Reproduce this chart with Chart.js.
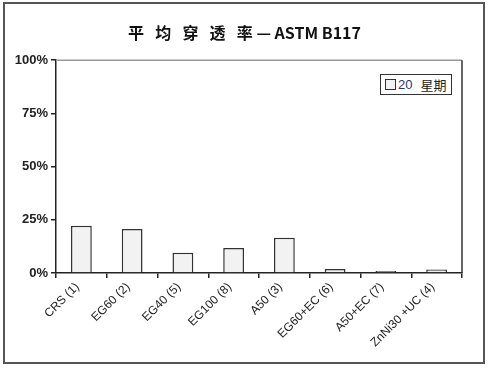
<!DOCTYPE html>
<html>
<head>
<meta charset="utf-8">
<script src="https://cdn.jsdelivr.net/npm/chart.js@4/dist/chart.umd.min.js"></script>
<style>
  html, body { margin: 0; padding: 0; background: #fff; }
  #wrap { position: relative; width: 489px; height: 368px; }
  #frame { position: absolute; left: 3px; top: 2px; width: 478px; height: 358px; border: 2px solid #555; pointer-events: none; }
  #legend {
    position: absolute; left: 380px; top: 74px; width: 72px; height: 21px;
    border: 1px solid #333; background: #fff;
    font: 13px "Noto Sans CJK SC", "Liberation Sans", sans-serif; color: #222;
    display: flex; align-items: center; box-sizing: border-box; padding-left: 4px;
  }
  #legend .sw { width: 9px; height: 9px; border: 1px solid #333; background: #f2f2f2; margin-right: 2px; }
  #legend .n { color: #1f3a6e; font-family: "Liberation Sans", sans-serif; margin-right: 8px; }
</style>
</head>
<body>
<div id="wrap">
  <canvas id="chart" width="489" height="368"></canvas>
  <div id="frame"></div>
  <div id="legend"><span class="sw"></span><span class="n">20</span><span>星期</span></div>
</div>
<script>
// 数据
const categories = ['CRS (1)', 'EG60 (2)', 'EG40 (5)', 'EG100 (8)', 'A50 (3)', 'EG60+EC (6)', 'A50+EC (7)', 'ZnNi30 +UC (4)'];
const week20 = [22.2, 20.7, 9.5, 11.7, 16.6, 1.9, 0.9, 1.7];
const yTicks = [0, 25, 50, 75, 100];
const seriesLabel = '20 星期';
const chartTitle = '平\u2002\u2009均\u2002\u2009穿\u2002\u2009透\u2002\u2009率 — ASTM B117';

// 画图区上边和右边的框线
const plotBox = {
  id: 'plotBox',
  afterDraw(chart) {
    const { ctx, chartArea: a } = chart;
    ctx.save();
    ctx.lineWidth = 1.5;
    ctx.strokeStyle = '#999';
    ctx.beginPath();
    ctx.moveTo(a.left, a.top);
    ctx.lineTo(a.right, a.top);
    ctx.stroke();
    ctx.strokeStyle = '#333';
    ctx.beginPath();
    ctx.moveTo(a.right, a.top);
    ctx.lineTo(a.right, a.bottom);
    ctx.stroke();
    ctx.restore();
  }
};

new Chart(document.getElementById('chart'), {
  type: 'bar',
  data: {
    labels: categories,
    datasets: [{
      label: seriesLabel,
      data: week20,
      backgroundColor: '#f2f2f2',
      borderColor: '#333',
      borderWidth: 1.5,
      barPercentage: 0.41,
      categoryPercentage: 1
    }]
  },
  options: {
    responsive: false,
    animation: false,
    layout: { padding: 0 },
    plugins: {
      legend: { display: false },
      tooltip: { enabled: false },
      title: {
        display: true,
        text: chartTitle,
        color: '#111',
        font: { family: '"Noto Sans CJK SC", "Liberation Sans", sans-serif', size: 16, weight: 'bold' },
        padding: { top: 23, bottom: 18 }
      }
    },
    scales: {
      x: {
        grid: { drawOnChartArea: false, offset: true, tickLength: 5, color: '#222', lineWidth: 1.5 },
        border: { color: '#222', width: 1.5 },
        ticks: {
          color: '#222',
          font: { family: '"Liberation Sans", Arial, sans-serif', size: 12 },
          minRotation: 45,
          maxRotation: 45,
          autoSkip: false,
          labelOffset: -4,
          padding: 2
        },
        afterFit(scale) { scale.height = 95; }
      },
      y: {
        min: 0,
        max: 100,
        afterBuildTicks(scale) { scale.ticks = yTicks.map(v => ({ value: v })); },
        grid: { drawOnChartArea: false, tickLength: 5, color: '#222', lineWidth: 1.5 },
        border: { color: '#222', width: 1.5 },
        ticks: {
          color: '#222',
          font: { family: '"Liberation Sans", Arial, sans-serif', size: 13, weight: 'bold' },
          padding: 3,
          callback: v => v + '%'
        },
        afterFit(scale) { scale.width = 56; }
      },
      // 右侧留白（不显示）
      yRight: {
        position: 'right',
        min: 0,
        max: 100,
        grid: { display: false },
        border: { display: false },
        ticks: { display: false },
        afterFit(scale) { scale.width = 27; }
      }
    }
  },
  plugins: [plotBox]
});
</script>
</body>
</html>
